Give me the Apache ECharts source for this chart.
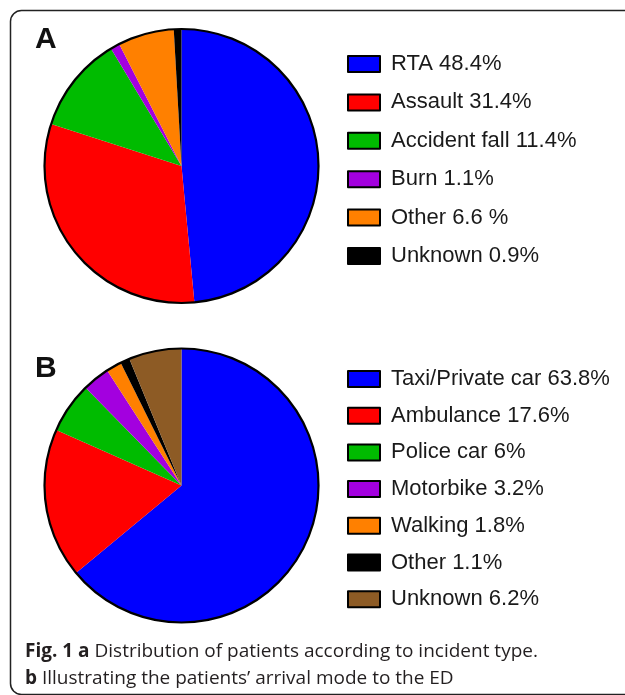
<!DOCTYPE html>
<html>
<head>
<meta charset="utf-8">
<script src="https://cdn.jsdelivr.net/npm/echarts@6/dist/echarts.min.js"></script>
<style>
html,body{margin:0;padding:0;background:#fff;}
#chart{width:625px;height:695px;}
</style>
</head>
<body>
<div id="chart"></div>
<script>
// Panel A: incident type
var incidentLabels = ['RTA 48.4%', 'Assault 31.4%', 'Accident fall 11.4%', 'Burn 1.1%', 'Other 6.6 %', 'Unknown 0.9%'];
var incidentValues = [48.4, 31.4, 11.4, 1.1, 6.6, 0.9];
var incidentColors = ['#0000ff', '#ff0000', '#00bb00', '#a300df', '#ff8000', '#000000'];

// Panel B: arrival mode
var arrivalLabels = ['Taxi/Private car 63.8%', 'Ambulance 17.6%', 'Police car 6%', 'Motorbike 3.2%', 'Walking 1.8%', 'Other 1.1%', 'Unknown 6.2%'];
var arrivalValues = [63.8, 17.6, 6, 3.2, 1.8, 1.1, 6.2];
var arrivalColors = ['#0000ff', '#ff0000', '#00bb00', '#a300df', '#ff8000', '#000000', '#8d5b25'];

var captionLine1 = ['Fig. 1', ' a', ' Distribution of patients according to incident type.'];
var captionLine2 = ['b', ' Illustrating the patients\u2019 arrival mode to the ED'];

function buildData(labels, values, colors) {
  return labels.map(function (l, i) {
    return { name: l, value: values[i], itemStyle: { color: colors[i] } };
  });
}

var chart = echarts.init(document.getElementById('chart'), null, { renderer: 'canvas' });

var legendBase = {
  orient: 'vertical',
  left: 342,
  icon: 'rect',
  itemWidth: 32,
  itemHeight: 16,
  selectedMode: false,
  itemStyle: { borderColor: '#000', borderWidth: 2 },
  textStyle: {
    fontFamily: '"Liberation Sans", Arial, sans-serif',
    fontSize: 22,
    color: '#1a1a1a',
    padding: [0, 0, 0, 6]
  }
};

var pieBase = {
  type: 'pie',
  startAngle: 90,
  clockwise: true,
  label: { show: false },
  labelLine: { show: false },
  silent: true,
  animation: false,
  itemStyle: { borderWidth: 0 },
  emphasis: { disabled: true }
};

var outline = function (center, r) {
  return {
    type: 'pie',
    center: center,
    radius: r,
    silent: true,
    animation: false,
    label: { show: false },
    labelLine: { show: false },
    emphasis: { disabled: true },
    data: [{ value: 1, name: '_outline', itemStyle: { color: 'rgba(0,0,0,0)', borderColor: '#000', borderWidth: 2.2 } }],
    z: 5
  };
};

var option = {
  backgroundColor: '#fff',
  animation: false,
  legend: [
    Object.assign({}, legendBase, { top: 48, itemGap: 16.4, data: incidentLabels }),
    Object.assign({}, legendBase, { top: 363, itemGap: 14.7, data: arrivalLabels })
  ],
  series: [
    Object.assign({}, pieBase, { center: [181.5, 166], radius: 137, data: buildData(incidentLabels, incidentValues, incidentColors) }),
    outline([181.5, 166], 137),
    Object.assign({}, pieBase, { center: [181.5, 485.5], radius: 137, data: buildData(arrivalLabels, arrivalValues, arrivalColors) }),
    outline([181.5, 485.5], 137)
  ],
  graphic: [
    {
      type: 'rect',
      shape: { x: 10.5, y: 10.5, width: 640, height: 684, r: 11 },
      style: { fill: 'none', stroke: '#222', lineWidth: 1.5 },
      silent: true
    },
    {
      type: 'text', left: 35, top: 25,
      style: { text: 'A', fontFamily: '"Liberation Sans", Arial, sans-serif', fontWeight: 'bold', fontSize: 30, fill: '#111' }
    },
    {
      type: 'text', left: 35, top: 354,
      style: { text: 'B', fontFamily: '"Liberation Sans", Arial, sans-serif', fontWeight: 'bold', fontSize: 30, fill: '#111' }
    },
    {
      type: 'text', left: 25, top: 642,
      style: {
        text: '{b|' + captionLine1[0] + '}{b|' + captionLine1[1] + '}{n|' + captionLine1[2] + '}',
        rich: {
          b: { fontFamily: 'Open Sans', fontWeight: 'bold', fontSize: 19, fill: '#231f20' },
          n: { fontFamily: 'Open Sans', fontSize: 19, fill: '#231f20' }
        }
      }
    },
    {
      type: 'text', left: 25, top: 669,
      style: {
        text: '{b|' + captionLine2[0] + '}{n|' + captionLine2[1] + '}',
        rich: {
          b: { fontFamily: 'Open Sans', fontWeight: 'bold', fontSize: 19, fill: '#231f20' },
          n: { fontFamily: 'Open Sans', fontSize: 19, fill: '#231f20' }
        }
      }
    }
  ]
};

chart.setOption(option);
</script>
</body>
</html>
